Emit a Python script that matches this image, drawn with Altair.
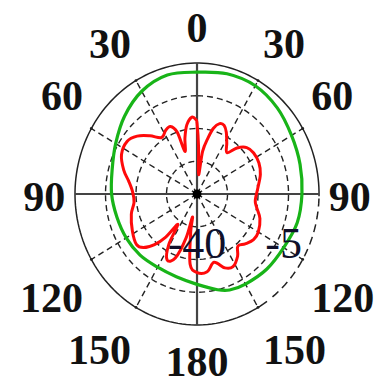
import altair as alt
import numpy as np
import pandas as pd

# radial axis limits (dB)
R_MIN, R_MAX = -40, -5

# red pattern (angle deg, dB)
red_theta = [0, 2, 5, 8, 12, 15, 19, 23, 27, 32, 38, 43, 49, 56, 65, 74, 85, 96, 102, 110,
             120, 127, 134, 140, 145, 152, 158, 165, 172, 180, 186, 190, 192, 195, 200, 206,
             211, 214, 218, 222, 227, 232, 242, 254, 263, 272, 280, 287, 296, 305, 312, 319,
             326, 332, 337, 341, 343, 347, 351, 356, 359]
red_db = [-21.1, -27.4, -34.8, -28.5, -24.6, -21.8, -20.1, -20.1, -21.5, -23.9, -26.0, -23.2,
          -21.1, -20.4, -20.4, -21.1, -22.5, -23.2, -22.5, -20.8, -19.7, -19.7, -20.8, -21.8,
          -19.7, -18.0, -18.7, -21.1, -19.0, -19.0, -21.1, -29.5, -33.7, -27.8, -21.8, -20.4,
          -24.3, -30.2, -25.3, -21.8, -19.0, -18.0, -19.0, -20.4, -21.8, -21.5, -20.1, -18.0,
          -15.9, -15.5, -16.9, -19.4, -21.8, -20.8, -20.4, -22.5, -28.1, -24.6, -21.3, -19.4,
          -20.1]

# green pattern (angle deg, dB)
green_theta = [0, 15, 30, 45, 60, 75, 90, 105, 120, 135, 150, 160, 167, 180, 195, 210, 225,
               240, 255, 270, 285, 300, 315, 330, 345]
green_db = [-7.45, -6.75, -6.6, -7.45, -8.7, -9.4, -9.9, -10.25, -11.3, -11.65, -12.2, -12.7,
            -13.75, -15.85, -17.1, -17.4, -16.9, -16.55, -16.2, -15.5, -14.8, -13.05, -10.6,
            -8.3, -7.1]

# angular tick labels
label_angles = [0, 30, 60, 90, 120, 150, 180, 210, 240, 270, 300, 330]
label_text = ["0", "30", "60", "90", "120", "150", "180", "150", "120", "90", "60", "30"]

# grid
grid_levels = [0.25, 0.5, 0.75]
spoke_angles = [30, 60, 120, 150, 210, 240, 300, 330]
axis_angles = [0, 90, 180, 270]

XS = alt.Scale(domain=[-1.549, 1.475], nice=False, zero=False)
YS = alt.Scale(domain=[-1.42, 1.42], nice=False, zero=False)
X = alt.X("x:Q", scale=XS, axis=None)
Y = alt.Y("y:Q", scale=YS, axis=None)

ring_ang = np.arange(0, 361, 3)
rings = pd.DataFrame([{"lvl": l, "theta": int(a)} for l in grid_levels for a in ring_ang])
outer_solid = pd.DataFrame({"lvl": 1.0, "theta": np.arange(145, 453, 2).astype(int)})
outer_dash = pd.DataFrame({"lvl": 1.0, "theta": np.arange(92, 146, 2).astype(int)})

def polar(ch, rexpr):
    return ch.transform_calculate(
        x=f"({rexpr})*sin(datum.theta*PI/180)",
        y=f"({rexpr})*cos(datum.theta*PI/180)")

dashed_rings = polar(alt.Chart(rings), "datum.lvl").mark_line(
    color="#222", strokeWidth=1.4, strokeDash=[6, 4]).encode(
    x=X, y=Y, detail="lvl:N", order="theta:Q")

outer_ring = polar(alt.Chart(outer_solid), "datum.lvl").mark_line(
    color="#222", strokeWidth=1.5).encode(x=X, y=Y, order="theta:Q")
outer_ring_d = polar(alt.Chart(outer_dash), "datum.lvl").mark_line(
    color="#222", strokeWidth=1.5, strokeDash=[8, 5]).encode(x=X, y=Y, order="theta:Q")

def rules(angles, **style):
    return alt.Chart(pd.DataFrame({"theta": angles})).transform_calculate(
        x0="0", y0="0",
        x1="sin(datum.theta*PI/180)", y1="cos(datum.theta*PI/180)").mark_rule(
        **style).encode(
        x=alt.X("x0:Q", scale=XS, axis=None), y=alt.Y("y0:Q", scale=YS, axis=None),
        x2="x1:Q", y2="y1:Q")

spokes = rules(spoke_angles, color="#222", strokeWidth=1.4, strokeDash=[6, 4])
axes = rules(axis_angles, color="#444", strokeWidth=2.2)

ticks = polar(alt.Chart(pd.DataFrame({"theta": spoke_angles})), "1").mark_point(
    filled=True, size=8, color="#222", opacity=1).encode(x=X, y=Y)

rnorm = f"(datum.db - ({R_MIN}))/({R_MAX - R_MIN})"

green = polar(alt.Chart(pd.DataFrame({"theta": green_theta, "db": green_db})), rnorm).mark_line(
    color="#18b418", strokeWidth=3.2, interpolate="cardinal-closed").encode(
    x=X, y=Y, order="theta:Q")

red = polar(alt.Chart(pd.DataFrame({"theta": red_theta, "db": red_db})), rnorm).mark_line(
    color="#ff0a0a", strokeWidth=3, interpolate="cardinal-closed").encode(
    x=X, y=Y, order="theta:Q")

center = alt.Chart(pd.DataFrame({"theta": [0]})).transform_calculate(x="0", y="0").mark_point(
    filled=True, size=80, color="black", opacity=1).encode(x=X, y=Y)

labels_df = pd.DataFrame({"theta": label_angles, "t": label_text})

def lab(cond, align):
    return alt.Chart(labels_df).transform_filter(cond).transform_calculate(
        s="sin(datum.theta*PI/180)", c="cos(datum.theta*PI/180)").transform_calculate(
        x="abs(datum.s) < 0.01 ? 0 : 1.08*datum.s",
        y="1.30*(datum.c < 0 ? -1 : 1)*pow(abs(datum.c), 0.75) + (datum.c < -0.99 ? 0.04 : 0) - (datum.c > 0.99 ? 0.01 : 0)").mark_text(
        font="Liberation Serif", fontWeight="bold", fontSize=42, color="#111",
        align=align, baseline="middle", dy=4).encode(x=X, y=Y, text="t:N")

lab_c = lab("abs(sin(datum.theta*PI/180)) < 0.01", "center")
lab_r = lab("sin(datum.theta*PI/180) > 0.01", "left")
lab_l = lab("sin(datum.theta*PI/180) < -0.01", "right")

rad_min = alt.Chart(pd.DataFrame({"v": [R_MIN]})).transform_calculate(
    x="0", y="-0.39", t="toString(datum.v)").mark_text(
    font="Liberation Serif", fontSize=44, color="#10102a", align="center",
    baseline="middle").encode(x=X, y=Y, text="t:N")
rad_max = alt.Chart(pd.DataFrame({"v": [R_MAX]})).transform_calculate(
    x="0.86", y="-0.39", t="toString(datum.v)").mark_text(
    font="Liberation Serif", fontSize=44, color="#10102a", align="right",
    baseline="middle").encode(x=X, y=Y, text="t:N")

chart = alt.layer(
    dashed_rings, spokes, outer_ring, outer_ring_d, axes, ticks, green, red, center,
    rad_min, rad_max, lab_c, lab_r, lab_l
).properties(width=369, height=372, autosize="none", padding=0).configure_view(stroke=None)

chart.save("out.html", embed_options={"renderer": "svg", "actions": False})
